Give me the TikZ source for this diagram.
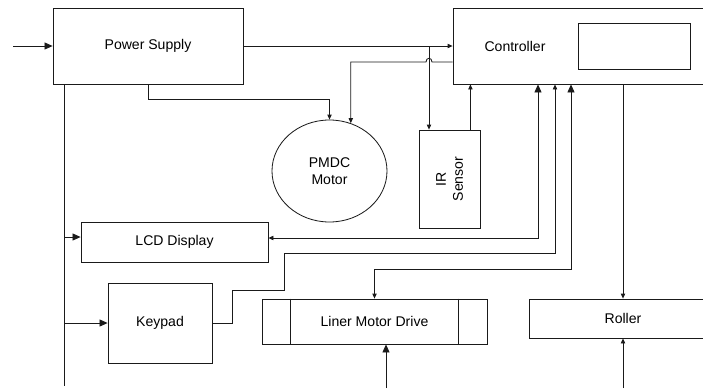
\documentclass[tikz,border=0pt]{standalone}
\usepackage{fontspec}
\setmainfont{Liberation Sans}
\usepackage{tikz}
\usetikzlibrary{arrows.meta,shapes.geometric}
\definecolor{ink}{HTML}{1A1A1A}
\tikzset{
  blk/.style={draw=ink,line width=.7pt,inner sep=2pt,align=center,font=\fontsize{12}{14.5}\selectfont},
  wire/.style={draw=ink,line width=.7pt},
  arr/.style={wire,-{Triangle[length=1.5mm,width=1.3mm]}},
  bigarr/.style={wire,-{Triangle[length=2.4mm,width=2.1mm]}},
  dblarr/.style={wire,{Triangle[length=2.4mm,width=2.1mm]}-{Triangle[length=1.5mm,width=1.3mm]}},
  lbl/.style={font=\fontsize{12}{14.5}\selectfont,inner sep=0pt}
}
\begin{document}
\begin{tikzpicture}[x=0.03cm,y=-0.03cm]
\useasboundingbox (0,0) rectangle (703,388);
\clip (0,0) rectangle (703,388);
% blocks
\node[blk,minimum width=5.7cm,minimum height=2.28cm] (ps) at (148,46) {Power Supply};
\node[blk,minimum width=7.92cm,minimum height=2.28cm] (ctrl) at (585,46) {};
\node[lbl] (ctrltxt) at (515,46) {Controller};
\node[blk,minimum width=3.36cm,minimum height=1.38cm] (ctrlbox) at (634,46) {};
\node[blk,ellipse,minimum width=3.45cm,minimum height=3.06cm] (motor) at (329.5,171) {PMDC\\Motor};
\node[blk,minimum width=1.83cm,minimum height=2.94cm] (ir) at (449.5,179) {};
\node[lbl,rotate=90,align=center] (irtxt) at (ir) {IR\\Sensor};
\node[blk,minimum width=5.61cm,minimum height=1.2cm] (lcd) at (174.5,242) {LCD Display};
\node[blk,minimum width=3.12cm,minimum height=2.4cm] (kp) at (160,323) {Keypad};
\node[blk,minimum width=6.75cm,minimum height=1.35cm] (lmd) at (374.5,321.5) {Liner Motor Drive};
\draw[wire] ([xshift=.87cm]lmd.north west) -- ([xshift=.87cm]lmd.south west);
\draw[wire] ([xshift=-.87cm]lmd.north east) -- ([xshift=-.87cm]lmd.south east);
\node[blk,minimum width=5.64cm,minimum height=1.17cm] (roller) at (623,318.5) {Roller};
% free ends
\coordinate (psin) at (13,46);
\coordinate (irtap) at (429,46);
\coordinate (busend) at (64,386);
\coordinate (lmdin) at (386,388);
\coordinate (rollin) at (623,388);
% supply side
\draw[bigarr] (psin) -- (ps);
\draw[arr] (ps) -- (ctrl.west |- ps);
\draw[arr] (irtap) -- (irtap |- ir.north);
\draw[arr] (ps.south) |- (motor.north |- 0,99) -- (motor.north);
\draw[wire] (ps.south -| busend) -- (busend);
\draw[bigarr] (busend |- 0,237) -- (lcd.west |- 0,237);
\draw[bigarr] (busend |- kp.west) -- (kp.west);
% controller links
\draw[arr] (ctrl.west |- 0,62) -- (432,62) .. controls (432,57) and (426,57) .. (426,62)
  -- (motor.66 |- 0,62) -- (motor.66);
\draw[arr] ([xshift=-.3cm]ir.north east) -- ([xshift=-.3cm]ir.north east |- ctrl.south);
\draw[dblarr] (ctrl.south -| 538,0) |- (lcd.east |- 0,238);
\draw[arr] (kp.east) -- (232,323) -- (232,290) -- (284,290) -- (284,253) -- (555,253) -- (ctrl.south -| 555,0);
\draw[dblarr] (ctrl.south -| 571,0) |- (lmd.north |- 0,269) -- (lmd.north);
\draw[arr] (ctrl.south -| roller.north) -- (roller.north);
\draw[bigarr] (lmdin) -- (lmdin |- lmd.south);
\draw[arr] (rollin) -- (roller.south);
\end{tikzpicture}
\end{document}
